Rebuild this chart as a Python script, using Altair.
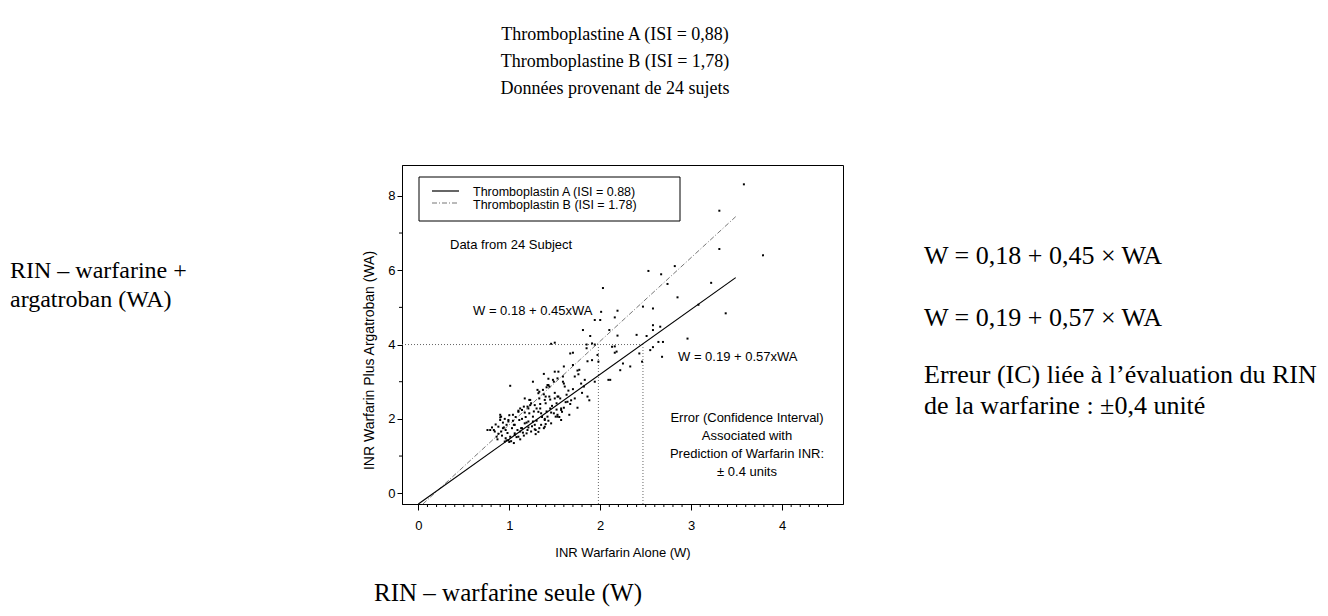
import altair as alt
import pandas as pd

# ---------------- data ----------------
w_alone = [
    3.58, 3.31, 3.31, 3.79, 2.53, 2.67, 2.82, 2.74, 3.22, 2.03, 2.85, 3.38, 2.47, 2.58, 2.19, 2.16,
    2.00, 2.58, 2.58, 2.66, 2.51, 2.96, 2.64, 2.69, 2.19, 2.16, 2.58, 3.08, 2.40, 1.94, 1.85, 1.46, 1.50,
    2.01, 1.94, 1.81, 1.89, 2.10, 1.91, 1.67, 1.70, 1.85, 2.13, 2.16, 2.22, 2.11, 1.70, 1.75, 1.76, 1.86,
    1.54, 1.59, 1.48, 1.49, 1.43, 1.41, 1.60, 1.65, 1.70, 1.79, 1.86, 1.88, 1.38, 1.40, 1.50, 1.54, 1.45,
    1.62, 1.68, 1.40,
    1.72, 1.77, 1.82, 1.91, 1.94, 1.97, 1.98, 2.09, 2.18, 2.25, 2.33, 2.43, 2.46, 2.55, 2.68, 1.60, 1.61,
    1.64, 1.66, 1.56, 1.57, 1.52, 1.53,
    0.76, 0.81, 0.84, 0.86, 0.90, 0.90, 0.93, 0.94, 0.96, 0.97, 0.99, 1.01, 1.04, 1.05, 1.06, 1.08, 1.10,
    1.11, 1.13, 1.15, 1.16, 1.17, 1.19, 1.21, 1.23, 1.23, 1.26, 1.26, 1.28, 1.29, 1.32, 1.33, 1.34, 1.35,
    1.37, 1.38, 1.39, 1.40, 1.43, 1.44, 1.45, 1.46, 1.50,
    1.26, 1.31, 1.33, 1.42, 1.44, 1.53, 1.59, 1.17, 1.22, 1.24, 1.12, 1.14, 1.10, 1.20, 1.21, 1.28, 1.30,
    1.32, 1.39, 1.50, 1.53, 1.57, 1.58, 1.51, 1.42, 1.39, 1.35, 1.33, 1.28, 1.21, 1.17, 1.14, 1.12, 1.06,
    1.03, 0.99, 0.97, 0.91, 0.90, 0.93, 0.91, 0.88, 0.83, 0.79, 1.01, 0.99, 0.95, 1.06, 1.10, 1.19, 1.24,
    1.29, 1.39, 1.46, 1.53, 1.57,
    0.85, 0.88, 0.92, 0.95, 0.98, 1.00, 1.02, 1.04, 1.07, 1.09, 1.12, 1.14, 1.16, 1.18, 1.20, 1.22, 1.25,
    1.27, 1.30, 1.32, 1.34, 1.36, 1.38, 1.41, 1.43, 1.47, 1.49, 1.52, 1.55, 1.60, 1.63, 1.67, 1.72, 1.75,
    1.80, 1.83, 0.87, 0.96, 1.00, 1.05,
]
wa_with_arg = [
    8.31, 7.60, 6.57, 6.40, 5.98, 5.89, 6.11, 5.63, 5.66, 5.52, 5.27, 4.84, 5.02, 4.97, 4.91, 4.73,
    4.66, 4.52, 4.39, 4.48, 4.23, 4.16, 4.07, 4.07, 4.24, 3.95, 3.93, 5.07, 4.26, 4.00, 4.00, 4.02, 4.05,
    4.88, 4.66, 4.39, 4.23, 4.39, 4.03, 3.76, 3.78, 3.90, 3.94, 3.78, 3.31, 3.05, 3.45, 3.30, 3.20, 3.55,
    3.27, 3.14, 3.05, 3.00, 3.08, 2.85, 2.95, 2.76, 2.80, 2.95, 2.60, 2.50, 2.66, 2.60, 2.70, 2.60, 2.52,
    2.45, 2.50, 2.42,
    3.14, 3.32, 2.87, 3.58, 3.00, 3.72, 3.54, 3.05, 3.81, 3.49, 3.41, 3.76, 3.54, 3.85, 3.67, 3.41, 2.87,
    2.46, 2.11, 2.55, 2.24, 2.42, 2.11,
    1.70, 1.77, 1.66, 1.52, 2.11, 2.04, 1.90, 1.77, 1.48, 1.42, 1.97, 2.89, 2.11, 1.84, 1.61, 1.51, 2.22,
    1.97, 1.75, 1.63, 2.33, 2.17, 1.90, 1.77, 2.51, 2.37, 2.06, 1.93, 1.72, 1.59, 2.69, 2.55, 2.28, 2.15,
    2.78, 3.21, 1.97, 1.86, 2.91, 2.60, 2.28, 2.17, 3.27,
    3.00, 2.78, 2.73, 2.91, 2.87, 3.09, 3.00, 2.55, 2.51, 2.42, 2.28, 2.24, 2.19, 2.33, 2.28, 2.37, 2.28,
    2.19, 2.51, 2.55, 2.60, 2.28, 2.19, 2.06, 2.06, 2.00, 1.84, 1.75, 1.84, 1.93, 1.88, 1.75, 1.66, 1.84,
    1.75, 1.93, 1.84, 2.06, 1.97, 1.75, 1.66, 1.79, 1.70, 1.70, 1.52, 1.43, 1.39, 1.57, 1.52, 1.61, 1.66,
    1.70, 1.79, 1.88, 2.06, 1.97,
    1.85, 1.60, 1.55, 2.00, 1.62, 2.10, 1.40, 1.95, 2.05, 1.70, 1.45, 2.00, 1.55, 2.05, 1.70, 2.15, 1.80,
    2.20, 1.95, 1.65, 2.40, 2.05, 1.75, 2.20, 1.95, 2.35, 2.15, 2.25, 2.05, 2.30, 2.65, 2.40, 2.55, 2.30,
    2.70, 3.05, 1.45, 1.70, 1.38, 1.35,
]

# regression lines (end points)
line_a_w = [0.00, 3.49]
line_a_wa = [-0.29, 5.80]
line_b_w = [0.05, 3.49]
line_b_wa = [-0.29, 7.44]

# dotted reference lines: (x, x2, y, y2)
ref_x = [-0.18, 1.98, 2.47]
ref_x2 = [2.47, 1.98, 2.47]
ref_y = [4.0, -0.29, -0.29]
ref_y2 = [4.0, 4.0, 4.0]

x_major = [0, 1, 2, 3, 4]
y_major = [0, 2, 4, 6, 8]
x_minor = [round(i * 0.1, 1) for i in range(1, 46) if i % 10 != 0]
y_minor = [1, 3, 5, 7]

X_DOMAIN = [-0.18, 4.67]
Y_DOMAIN = [-0.29, 8.83]

W, H = 441, 339
SANS = "Liberation Sans, Arial, sans-serif"
SERIF = "Liberation Serif, Times New Roman, serif"

xs = alt.Scale(domain=X_DOMAIN, nice=False, zero=False)
ys = alt.Scale(domain=Y_DOMAIN, nice=False, zero=False)

pts_df = pd.DataFrame({"w": w_alone, "wa": wa_with_arg})

points = alt.Chart(pts_df).mark_square(size=4, color="black", opacity=1).encode(
    x=alt.X("w:Q", scale=xs, axis=alt.Axis(
        values=x_major, title="INR Warfarin Alone (W)", tickSize=6,
        labelPadding=9, titlePadding=14, format="d")),
    y=alt.Y("wa:Q", scale=ys, axis=alt.Axis(
        values=y_major, title="INR Warfarin Plus Argatroban (WA)", tickSize=5,
        labelPadding=2, titlePadding=11, titleFontSize=14, titleY=195, format="d")),
)

line_a = alt.Chart(pd.DataFrame({"w": line_a_w, "wa": line_a_wa})).mark_line(
    color="black", strokeWidth=1.2).encode(
    x=alt.X("w:Q", scale=xs, axis=None), y=alt.Y("wa:Q", scale=ys, axis=None))

line_b = alt.Chart(pd.DataFrame({"w": line_b_w, "wa": line_b_wa})).mark_line(
    color="#777777", strokeWidth=1, strokeDash=[5, 2, 1, 2]).encode(
    x=alt.X("w:Q", scale=xs, axis=None), y=alt.Y("wa:Q", scale=ys, axis=None))

refs = alt.Chart(pd.DataFrame({"x": ref_x, "x2": ref_x2, "y": ref_y, "y2": ref_y2})).mark_rule(
    color="#666666", strokeWidth=1, strokeDash=[1, 2]).encode(
    x=alt.X("x:Q", scale=xs, axis=None), x2="x2:Q",
    y=alt.Y("y:Q", scale=ys, axis=None), y2="y2:Q")

x_minor_ticks = alt.Chart(pd.DataFrame({"v": x_minor})).mark_rule(color="black", strokeWidth=1).encode(
    x=alt.X("v:Q", scale=xs, axis=None), y=alt.value(H), y2=alt.value(H + 3))

y_minor_ticks = alt.Chart(pd.DataFrame({"v": y_minor})).mark_rule(color="black", strokeWidth=1).encode(
    y=alt.Y("v:Q", scale=ys, axis=None), x=alt.value(0), x2=alt.value(-3))

legend_box = alt.Chart(pd.DataFrame({"k": [0]})).mark_rect(
    fill="white", stroke="black", strokeWidth=1).encode(
    x=alt.value(17), x2=alt.value(278), y=alt.value(12), y2=alt.value(56))

leg_a = alt.Chart(pd.DataFrame({"k": [0]})).mark_rule(color="black", strokeWidth=1.2).encode(
    x=alt.value(30), x2=alt.value(57), y=alt.value(26))
leg_b = alt.Chart(pd.DataFrame({"k": [0]})).mark_rule(
    color="#777777", strokeWidth=1, strokeDash=[5, 2, 1, 2]).encode(
    x=alt.value(30), x2=alt.value(57), y=alt.value(38))


def label(text, x, y, size, font=SANS, align="left", baseline="middle"):
    return alt.Chart(pd.DataFrame({"t": [text]})).mark_text(
        font=font, fontSize=size, align=align, baseline=baseline, color="black").encode(
        text="t:N", x=alt.value(x), y=alt.value(y))


texts = [
    label("Thromboplastin A (ISI = 0.88)", 71, 27, 12.5),
    label("Thromboplastin B (ISI = 1.78)", 71, 40, 12.5),
    label("Data from 24 Subject", 48, 80, 13),
    label("W = 0.18 + 0.45xWA", 71, 146, 13),
    label("W = 0.19 + 0.57xWA", 276, 192, 13),
    label("Error (Confidence Interval)", 345, 253, 13, align="center"),
    label("Associated with", 345, 271, 13, align="center"),
    label("Prediction of Warfarin INR:", 345, 289, 13, align="center"),
    label("± 0.4 units", 345, 307, 13, align="center"),
    # French annotations around the figure
    label("Thromboplastine A (ISI = 0,88)", 213, -130, 18, font=SERIF, align="center"),
    label("Thromboplastine B (ISI = 1,78)", 213, -103, 18, font=SERIF, align="center"),
    label("Données provenant de 24 sujets", 213, -76, 18, font=SERIF, align="center"),
    label("RIN – warfarine +", -392, 113, 24, font=SERIF, baseline="alphabetic"),
    label("argatroban (WA)", -392, 142, 24, font=SERIF, baseline="alphabetic"),
    label("W = 0,18 + 0,45 × WA", 522, 99, 26, font=SERIF, baseline="alphabetic"),
    label("W = 0,19 + 0,57 × WA", 522, 161, 26, font=SERIF, baseline="alphabetic"),
    label("Erreur (IC) liée à l’évaluation du RIN", 522, 218, 26, font=SERIF, baseline="alphabetic"),
    label("de la warfarine : ±0,4 unité", 522, 249, 26, font=SERIF, baseline="alphabetic"),
    label("RIN – warfarine seule (W)", 106, 436, 25, font=SERIF, align="center", baseline="alphabetic"),
]

chart = alt.layer(
    refs, line_b, line_a, points, x_minor_ticks, y_minor_ticks,
    legend_box, leg_a, leg_b, *texts,
).resolve_axis(
    x="independent", y="independent",
).properties(
    width=W, height=H,
    autosize=alt.AutoSizeParams(type="none"),
    padding={"left": 394, "top": 157, "right": 477, "bottom": 104},
    background="white",
).configure_view(
    stroke="black", strokeWidth=1,
).configure_axis(
    grid=False, domainColor="black", tickColor="black", labelColor="black",
    titleColor="black", labelFont=SANS, labelFontSize=13, titleFont=SANS,
    titleFontSize=13, titleFontWeight="normal", domainWidth=1, tickWidth=1,
)

chart.save("out.html", embed_options={"renderer": "svg", "actions": False})
